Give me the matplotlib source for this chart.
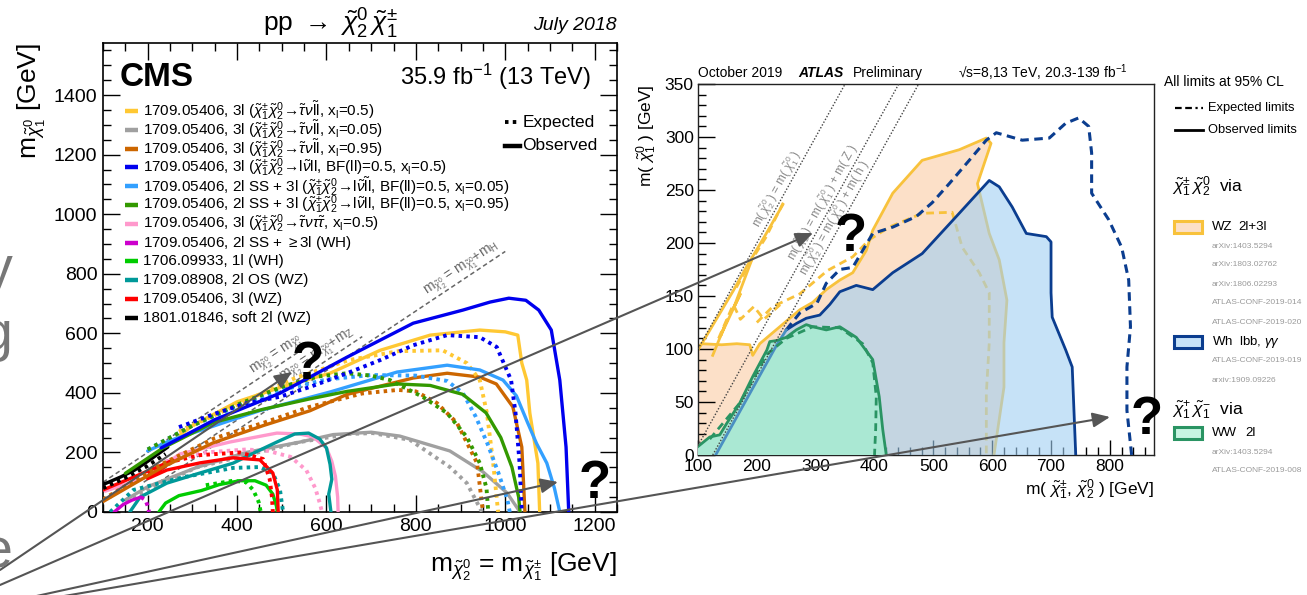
import matplotlib
matplotlib.use("Agg")
import matplotlib.pyplot as plt
from matplotlib.patches import FancyArrowPatch, Rectangle
from matplotlib.ticker import MultipleLocator

plt.rcParams['font.family'] = ['Liberation Sans', 'DejaVu Sans']
plt.rcParams['mathtext.fontset'] = 'custom'
plt.rcParams['mathtext.rm'] = 'Liberation Sans'
plt.rcParams['mathtext.it'] = 'Liberation Sans:italic'
plt.rcParams['mathtext.bf'] = 'Liberation Sans:bold'
plt.rcParams['mathtext.sf'] = 'Liberation Sans'

# ---------------------------------------------------------------- CMS data
cms_gold_obs_x = [240, 300, 400, 500, 608, 720, 832, 943, 1000, 1028, 1037, 1048, 1055, 1073, 1077]
cms_gold_obs_y = [220, 290, 370, 420, 466, 543, 594, 611, 605, 594, 500, 443, 332, 164, 0]
cms_gold_exp_x = [270, 400, 530, 650, 760, 860, 914, 943, 959, 973, 984]
cms_gold_exp_y = [270, 360, 450, 510, 540, 543, 500, 443, 332, 164, 0]
cms_gray_obs_x = [150, 200, 310, 420, 541, 615, 700, 764, 876, 950, 1004, 1033]
cms_gray_obs_y = [40, 85, 150, 200, 235, 260, 268, 255, 205, 135, 64, 0]
cms_gray_exp_x = [150, 310, 541, 650, 704, 787, 876, 914, 948]
cms_gray_exp_y = [40, 150, 235, 262, 265, 242, 151, 97, 0]
cms_brown_obs_x = [100, 234, 346, 458, 563, 646, 794, 870, 943, 980, 1017, 1037, 1044]
cms_brown_obs_y = [35, 151, 232, 290, 340, 395, 450, 466, 453, 430, 353, 218, 0]
cms_brown_exp_x = [100, 230, 350, 460, 560, 680, 760, 800, 847, 892, 937, 950]
cms_brown_exp_y = [42, 160, 248, 300, 352, 398, 410, 405, 366, 299, 164, 0]
cms_blue_obs_x = [230, 350, 496, 646, 794, 905, 966, 1008, 1046, 1075, 1103, 1122, 1136, 1142]
cms_blue_obs_y = [215, 310, 399, 520, 634, 678, 705, 718, 711, 678, 611, 443, 218, 0]
cms_blue_exp_x = [270, 350, 420, 496, 563, 646, 720, 794, 870, 943, 981, 1013, 1023, 1032, 1037]
cms_blue_exp_y = [285, 330, 365, 387, 420, 466, 510, 560, 594, 587, 554, 443, 332, 164, 0]
cms_lblue_obs_x = [200, 250, 350, 450, 608, 758, 870, 943, 995, 1025, 1050, 1070, 1093, 1110, 1122]
cms_lblue_obs_y = [205, 240, 290, 340, 403, 470, 493, 477, 443, 390, 300, 230, 164, 80, 0]
cms_lblue_exp_x = [200, 300, 400, 500, 600, 700, 800, 870, 905, 934, 960, 985, 1005, 1010]
cms_lblue_exp_y = [210, 290, 355, 410, 445, 460, 458, 440, 400, 320, 230, 130, 40, 0]
cms_green_obs_x = [150, 234, 346, 458, 563, 646, 758, 832, 905, 957, 990, 1015, 1030, 1033]
cms_green_obs_y = [130, 215, 300, 345, 380, 405, 430, 425, 395, 333, 250, 150, 50, 0]
cms_green_exp_x = [200, 300, 400, 500, 580, 646, 700, 742, 816, 870, 914, 943, 958, 962]
cms_green_exp_y = [210, 290, 360, 420, 455, 466, 458, 443, 386, 332, 252, 164, 80, 0]
cms_pink_obs_x = [105, 198, 272, 384, 489, 540, 570, 600, 612, 620, 625, 626]
cms_pink_obs_y = [70, 117, 195, 235, 265, 262, 252, 215, 170, 120, 50, 0]
cms_pink_exp_x = [240, 330, 420, 470, 520, 555, 575, 585, 590]
cms_pink_exp_y = [170, 200, 210, 205, 185, 140, 80, 30, 0]
cms_magenta_obs_x = [125, 145, 165, 185]
cms_magenta_obs_y = [0, 25, 40, 50]
cms_magenta_exp_x = [185, 195, 200, 203]
cms_magenta_exp_y = [50, 40, 20, 0]
cms_bgreen_obs_x = [225, 240, 270, 320, 360, 406, 440, 465, 480, 488, 490]
cms_bgreen_obs_y = [0, 30, 55, 72, 92, 105, 105, 90, 60, 20, 0]
cms_bgreen_exp_x = [330, 391, 420, 436, 448, 453]
cms_bgreen_exp_y = [90, 105, 100, 74, 35, 0]
cms_teal_obs_x = [160, 183, 243, 317, 391, 451, 489, 529, 560, 585, 600, 608, 612, 605, 610]
cms_teal_obs_y = [0, 50, 97, 131, 164, 208, 235, 262, 265, 245, 215, 160, 110, 60, 0]
cms_teal_exp_x = [116, 168, 280, 391, 451, 480, 496, 500, 503]
cms_teal_exp_y = [0, 74, 117, 148, 151, 131, 74, 30, 0]
cms_red_obs_x = [100, 168, 257, 200, 243, 317, 391, 451, 480, 490, 492]
cms_red_obs_y = [74, 117, 174, 112, 141, 165, 182, 175, 131, 74, 0]
cms_red_exp_x = [200, 250, 317, 406, 458, 473, 478, 480]
cms_red_exp_y = [130, 168, 191, 200, 178, 110, 50, 0]
cms_black_obs_x = [100, 140, 170, 200, 245]
cms_black_obs_y = [92, 118, 140, 170, 218]
cms_black_exp_x = [100, 150, 200, 240]
cms_black_exp_y = [80, 115, 155, 195]

cms_legend_labels = [
    r"1709.05406, 3l ($\tilde{\chi}^{\pm}_{1}\tilde{\chi}^{0}_{2}\!\rightarrow\!\tilde{\tau}\nu\tilde{\mathrm{l}}\mathrm{l}$, x$_{\mathrm{l}}$=0.5)",
    r"1709.05406, 3l ($\tilde{\chi}^{\pm}_{1}\tilde{\chi}^{0}_{2}\!\rightarrow\!\tilde{\tau}\nu\tilde{\mathrm{l}}\mathrm{l}$, x$_{\mathrm{l}}$=0.05)",
    r"1709.05406, 3l ($\tilde{\chi}^{\pm}_{1}\tilde{\chi}^{0}_{2}\!\rightarrow\!\tilde{\tau}\nu\tilde{\mathrm{l}}\mathrm{l}$, x$_{\mathrm{l}}$=0.95)",
    r"1709.05406, 3l ($\tilde{\chi}^{\pm}_{1}\tilde{\chi}^{0}_{2}\!\rightarrow\!\mathrm{l}\tilde{\nu}\mathrm{ll}$, BF(ll)=0.5, x$_{\mathrm{l}}$=0.5)",
    r"1709.05406, 2l SS + 3l ($\tilde{\chi}^{\pm}_{1}\tilde{\chi}^{0}_{2}\!\rightarrow\!\mathrm{l}\tilde{\nu}\tilde{\mathrm{l}}\mathrm{l}$, BF(ll)=0.5, x$_{\mathrm{l}}$=0.05)",
    r"1709.05406, 2l SS + 3l ($\tilde{\chi}^{\pm}_{1}\tilde{\chi}^{0}_{2}\!\rightarrow\!\mathrm{l}\tilde{\nu}\mathrm{ll}$, BF(ll)=0.5, x$_{\mathrm{l}}$=0.95)",
    r"1709.05406, 3l ($\tilde{\chi}^{\pm}_{1}\tilde{\chi}^{0}_{2}\!\rightarrow\!\tilde{\tau}\nu\tau\tilde{\tau}$, x$_{\mathrm{l}}$=0.5)",
    r"1709.05406, 2l SS + $\geq$3l (WH)",
    r"1706.09933, 1l (WH)",
    r"1709.08908, 2l OS (WZ)",
    r"1709.05406, 3l (WZ)",
    r"1801.01846, soft 2l (WZ)",
]
cms_colors = ['#FFC833', '#A0A0A0', '#CC6600', '#0000EE', '#33A0FF', '#339900',
              '#FF99CC', '#CC00CC', '#00CC00', '#009999', '#FF0000', '#000000']

cms_xticks = [200, 400, 600, 800, 1000, 1200]
cms_yticks = [0, 200, 400, 600, 800, 1000, 1200, 1400]

# kinematic lines: offset in GeV and x-range of the dashed line
cms_diag_offsets = [0, 91, 125]
cms_diag_xstart = [100, 191, 225]
cms_diag_xend = [570, 680, 1000]
cms_diag_labels = [r"m$_{\tilde{\chi}^{0}_{2}}$ = m$_{\tilde{\chi}^{0}_{1}}$",
                   r"m$_{\tilde{\chi}^{0}_{2}}$ = m$_{\tilde{\chi}^{0}_{1}}$+m$_{\mathrm{Z}}$",
                   r"m$_{\tilde{\chi}^{0}_{2}}$ = m$_{\tilde{\chi}^{0}_{1}}$+m$_{\mathrm{H}}$"]
cms_diag_label_x = [500, 591, 915]

# ---------------------------------------------------------------- ATLAS data
atlas_wz_obs_x = [100, 100, 106, 140, 166, 188, 193, 205, 239, 273, 295, 318, 341, 363, 386, 397,
                  431, 481, 544, 590, 598, 575, 595, 612, 625, 620, 620, 603]
atlas_wz_obs_y = [0, 101, 105, 104, 105, 104, 94, 105, 121, 137, 144, 156, 165, 172, 193, 212,
                  247, 278, 288, 299, 294, 256, 209, 184, 146, 106, 64, 0]
atlas_wz_exp_x = [200, 227, 273, 320, 363, 391, 425, 481, 532, 549, 578, 595, 595, 590, 590]
atlas_wz_exp_y = [125, 140, 152, 174, 187, 203, 215, 228, 229, 196, 172, 153, 106, 58, 0]
atlas_wz_diag_obs_x = [100, 130, 160, 183, 215, 244]
atlas_wz_diag_obs_y = [99, 127, 155, 178, 208, 236]
atlas_wz_zig_obs_x = [125, 150, 138, 172, 160, 192]
atlas_wz_zig_obs_y = [94, 128, 112, 152, 138, 185]
atlas_wz_zig_exp_x = [135, 160, 172, 195, 212, 240]
atlas_wz_zig_exp_y = [110, 142, 128, 140, 128, 142]
atlas_wz_diag_exp_x = [165, 190, 215, 245]
atlas_wz_diag_exp_y = [158, 183, 205, 238]

atlas_wh_obs_x = [130, 175, 217, 235, 250, 267, 284, 307, 324, 341, 369, 397, 431, 481, 539, 595,
                  612, 634, 658, 692, 700, 700, 702, 725, 736, 742]
atlas_wh_obs_y = [0, 45, 87, 105, 118, 124, 129, 132, 142, 154, 160, 156, 172, 190, 225, 259,
                  253, 234, 209, 206, 201, 153, 130, 99, 83, 0]
atlas_wh_exp_x = [250, 273, 302, 318, 341, 363, 380, 397, 431, 471, 498, 527, 561, 590, 607, 651,
                  697, 725, 747, 764, 769, 769, 798, 820, 832, 835, 829, 829, 837]
atlas_wh_exp_y = [118, 134, 143, 162, 175, 177, 193, 209, 215, 225, 238, 256, 278, 297, 304, 297,
                  299, 313, 318, 310, 285, 247, 222, 196, 165, 121, 83, 42, 0]
atlas_ww_obs_x = [100, 100, 120, 137, 149, 171, 193, 217, 222, 234, 250, 267, 284, 295, 318, 341,
                  369, 397, 408, 414, 420]
atlas_ww_obs_y = [0, 8, 17, 19, 30, 49, 74, 99, 107, 108, 111, 118, 123, 121, 118, 121,
                  111, 90, 55, 24, 0]
atlas_ww_exp_x = [120, 171, 217, 250, 295, 341, 380, 397, 403, 402, 400]
atlas_ww_exp_y = [15, 49, 95, 110, 121, 120, 105, 87, 55, 25, 0]

atlas_diag_offsets = [0, 91.2, 125]
atlas_diag_labels = [r"m( $\tilde{\chi}^{0}_{2}$ ) = m( $\tilde{\chi}^{0}_{1}$ )",
                     r"m( $\tilde{\chi}^{0}_{2}$ ) = m( $\tilde{\chi}^{0}_{1}$ ) + m( Z )",
                     r"m( $\tilde{\chi}^{0}_{2}$ ) = m( $\tilde{\chi}^{0}_{1}$ ) + m( h )"]
atlas_diag_label_x = [247, 325, 345]

atlas_xticks = [100, 200, 300, 400, 500, 600, 700, 800]
atlas_yticks = [0, 50, 100, 150, 200, 250, 300, 350]

# ---------------------------------------------------------------- figure
fig = plt.figure(figsize=(13.07, 5.95), dpi=100)

# ---------------- CMS panel
ax = fig.add_axes([103/1307, 83/595, 514/1307, 469/595])
ax.set_xlim(100, 1250)
ax.set_ylim(0, 1575)

for off, x0, x1, lab, lx in zip(cms_diag_offsets, cms_diag_xstart, cms_diag_xend,
                                 cms_diag_labels, cms_diag_label_x):
    ax.plot([x0, x1], [x0 - off, x1 - off], color='#666666', lw=1.1,
            ls=(0, (3, 2)), zorder=1)
    ax.text(lx, lx - off, lab, fontsize=10, color='#666666', rotation=45,
            transform_rotates_text=True, rotation_mode='anchor',
            ha='center', va='bottom', zorder=1)

dot = (0, (0.9, 1.1))
cms_curves = [
    (cms_gray_exp_x, cms_gray_exp_y, 1, dot), (cms_gray_obs_x, cms_gray_obs_y, 1, '-'),
    (cms_pink_exp_x, cms_pink_exp_y, 6, dot), (cms_pink_obs_x, cms_pink_obs_y, 6, '-'),
    (cms_teal_exp_x, cms_teal_exp_y, 9, dot), (cms_teal_obs_x, cms_teal_obs_y, 9, '-'),
    (cms_bgreen_exp_x, cms_bgreen_exp_y, 8, dot), (cms_bgreen_obs_x, cms_bgreen_obs_y, 8, '-'),
    (cms_magenta_exp_x, cms_magenta_exp_y, 7, dot), (cms_magenta_obs_x, cms_magenta_obs_y, 7, '-'),
    (cms_red_exp_x, cms_red_exp_y, 10, dot), (cms_red_obs_x, cms_red_obs_y, 10, '-'),
    (cms_black_exp_x, cms_black_exp_y, 11, dot), (cms_black_obs_x, cms_black_obs_y, 11, '-'),
    (cms_brown_exp_x, cms_brown_exp_y, 2, dot), (cms_brown_obs_x, cms_brown_obs_y, 2, '-'),
    (cms_gold_exp_x, cms_gold_exp_y, 0, dot), (cms_gold_obs_x, cms_gold_obs_y, 0, '-'),
    (cms_lblue_exp_x, cms_lblue_exp_y, 4, dot), (cms_lblue_obs_x, cms_lblue_obs_y, 4, '-'),
    (cms_green_exp_x, cms_green_exp_y, 5, dot), (cms_green_obs_x, cms_green_obs_y, 5, '-'),
    (cms_blue_exp_x, cms_blue_exp_y, 3, dot), (cms_blue_obs_x, cms_blue_obs_y, 3, '-'),
]
for xs, ys, ci, ls in cms_curves:
    ax.plot(xs, ys, color=cms_colors[ci], lw=2.4 if ls == '-' else 2.8, ls=ls,
            solid_capstyle='round', zorder=3)

ax.set_xticks(cms_xticks)
ax.set_yticks(cms_yticks)
ax.xaxis.set_minor_locator(MultipleLocator(50))
ax.yaxis.set_minor_locator(MultipleLocator(50))
ax.tick_params(which='both', direction='in', top=True, right=True, labelsize=14,
               width=1.0, pad=4)
ax.tick_params(which='major', length=12)
ax.tick_params(which='minor', length=6)
for s in ax.spines.values():
    s.set_linewidth(1.2)

ax.text(0.033, 0.9275, "CMS", transform=ax.transAxes, fontsize=24, fontweight='bold',
        ha='left', va='center')
ax.text(0.949, 0.9275, r"35.9 fb$^{-1}$ (13 TeV)", transform=ax.transAxes, fontsize=17,
        ha='right', va='center')

# legend, built manually to keep the ROOT-like spacing
for i, (lab, col) in enumerate(zip(cms_legend_labels, cms_colors)):
    yy = (512 - (111 + 18.8 * i)) / 469
    ax.plot([0.043, 0.069], [yy, yy], transform=ax.transAxes, color=col, lw=3.2,
            solid_capstyle='butt')
    ax.text(0.078, yy, lab, transform=ax.transAxes, fontsize=11, ha='left', va='center')

yy_e = (512 - 122) / 469
yy_o = (512 - 146) / 469
ax.plot([0.783, 0.812], [yy_e, yy_e], transform=ax.transAxes, color='black', lw=2.8,
        ls=(0, (0.9, 1.1)))
ax.plot([0.783, 0.812], [yy_o, yy_o], transform=ax.transAxes, color='black', lw=3.2)
ax.text(0.816, yy_e, "Expected", transform=ax.transAxes, fontsize=12.5, va='center')
ax.text(0.816, yy_o, "Observed", transform=ax.transAxes, fontsize=12.5, va='center')

ax.text(1.0, -0.117, r"m$_{\tilde{\chi}^{0}_{2}}$ = m$_{\tilde{\chi}^{\pm}_{1}}$ [GeV]",
        transform=ax.transAxes, fontsize=19, ha='right', va='center')
ax.text(-0.138, 1.0, r"m$_{\tilde{\chi}^{0}_{1}}$ [GeV]", transform=ax.transAxes,
        fontsize=19, rotation=90, ha='center', va='top')

# ---------------- ATLAS panel
ax2 = fig.add_axes([698/1307, 140/595, 456/1307, 371/595])
ax2.set_xlim(100, 875)
ax2.set_ylim(0, 350)

gold = '#F8C23C'
navy = '#0B3D8F'
wwc = '#2A9463'
dash = (0, (2.8, 1.8))
ax2.fill(atlas_wz_obs_x, atlas_wz_obs_y, color='#FCE0C8', lw=0, zorder=1)
ax2.plot(atlas_wz_obs_x[1:], atlas_wz_obs_y[1:], color=gold, lw=2.0, zorder=2)
ax2.plot(atlas_wz_exp_x, atlas_wz_exp_y, color=gold, lw=2.0, ls=dash, zorder=2)
ax2.plot(atlas_wz_diag_obs_x, atlas_wz_diag_obs_y, color=gold, lw=2.0, zorder=2)
ax2.plot(atlas_wz_zig_obs_x, atlas_wz_zig_obs_y, color=gold, lw=2.0, zorder=2)
ax2.plot(atlas_wz_zig_exp_x, atlas_wz_zig_exp_y, color=gold, lw=2.0, ls=dash, zorder=2)
ax2.plot(atlas_wz_diag_exp_x, atlas_wz_diag_exp_y, color=gold, lw=2.0, ls=dash, zorder=2)

ax2.fill(atlas_wh_obs_x + [130], atlas_wh_obs_y + [0], color='#A0CFF3', alpha=0.6, lw=0, zorder=3)
ax2.plot(atlas_wh_obs_x[4:], atlas_wh_obs_y[4:], color=navy, lw=2.0, zorder=4)
ax2.plot(atlas_wh_exp_x, atlas_wh_exp_y, color=navy, lw=2.2, ls=dash, zorder=4)

ax2.fill(atlas_ww_obs_x, atlas_ww_obs_y, color='#AAE8D3', lw=0, zorder=5)
ax2.plot(atlas_wh_obs_x[:5], atlas_wh_obs_y[:5], color='#4A8FC2', lw=2.0, zorder=6)
ax2.plot(atlas_ww_obs_x[1:], atlas_ww_obs_y[1:], color=wwc, lw=2.0, zorder=6)
ax2.plot(atlas_ww_exp_x, atlas_ww_exp_y, color=wwc, lw=2.0, ls=dash, zorder=6)

for off, lab, lx in zip(atlas_diag_offsets, atlas_diag_labels, atlas_diag_label_x):
    x0 = max(100, off)
    ax2.plot([x0, 350 + off], [x0 - off, 350], color='#444444', lw=1.0,
             ls=(0, (1, 1.3)), zorder=7)
    ax2.text(lx, lx - off, lab, fontsize=8.5, color='#8A8A8A', rotation=45,
             transform_rotates_text=True, rotation_mode='anchor',
             ha='center', va='bottom', zorder=7)

ax2.set_xticks(atlas_xticks)
ax2.set_yticks(atlas_yticks)
ax2.xaxis.set_minor_locator(MultipleLocator(20))
ax2.yaxis.set_minor_locator(MultipleLocator(10))
ax2.tick_params(which='both', direction='in', top=False, right=False, labelsize=12.5,
                width=1.0, pad=3)
ax2.tick_params(axis='y', which='major', length=12)
ax2.tick_params(axis='x', which='major', length=11)
ax2.tick_params(which='minor', length=5.5)
for s in ax2.spines.values():
    s.set_linewidth(1.0)
    s.set_color('#222222')
ax2.text(1.0, -0.094, r"m( $\tilde{\chi}^{\pm}_{1}$, $\tilde{\chi}^{0}_{2}$ ) [GeV]",
         transform=ax2.transAxes, fontsize=12.5, ha='right', va='center')
ax2.text(-0.112, 1.0, r"m( $\tilde{\chi}^{0}_{1}$ ) [GeV]", transform=ax2.transAxes,
         fontsize=12.5, rotation=90, ha='center', va='top')

# ---------------- overlay (pixel coordinates of the whole picture)
ov = fig.add_axes([0, 0, 1, 1], zorder=20)
ov.set_xlim(0, 1307)
ov.set_ylim(595, 0)
ov.axis('off')
ov.patch.set_alpha(0)

# stray slide letters at the left edge
for ch, yb in zip(['y', 'g', 'e'], [285, 350, 568]):
    ov.text(13, yb, ch, fontsize=40, color='#777777', ha='right', va='baseline')

ov.text(330, 24, r"pp $\rightarrow$ $\tilde{\chi}^{0}_{2}\,\tilde{\chi}^{\pm}_{1}$",
        fontsize=19, ha='center', va='center')
ov.text(617, 26, "July 2018", fontsize=14, style='italic', ha='right', va='center')

ov.text(698, 73, "October 2019", fontsize=10, ha='left', va='center')
ov.text(798, 73, "ATLAS", fontsize=10, fontweight='bold', style='italic', ha='left', va='center')
ov.text(853, 73, "Preliminary", fontsize=10, ha='left', va='center')
ov.text(958, 73, r"√s=8,13 TeV, 20.3-139 fb$^{-1}$", fontsize=10, ha='left', va='center')

# ATLAS legend
ov.text(1164, 82, "All limits at 95% CL", fontsize=10, ha='left', va='center')
ov.plot([1175, 1203], [108, 108], color='black', lw=1.6, ls=(0, (3, 1.6, 3, 1.6, 1, 1.6)))
ov.text(1208, 108, "Expected limits", fontsize=9.3, ha='left', va='center')
ov.plot([1175, 1203], [130, 130], color='black', lw=2.0)
ov.text(1208, 130, "Observed limits", fontsize=9.3, ha='left', va='center')
ov.text(1172, 187, r"$\tilde{\chi}^{\pm}_{1}\,\tilde{\chi}^{0}_{2}$  via", fontsize=12.5,
        ha='left', va='center')
ov.add_patch(Rectangle((1174, 221), 28, 12, facecolor='#FCE0C8', edgecolor=gold, lw=2.2))
ov.text(1212, 227, "WZ", fontsize=9.5, ha='left', va='center')
ov.text(1238, 227, "2l+3l", fontsize=9.5, ha='left', va='center')
ov.add_patch(Rectangle((1174, 336), 28, 12, facecolor='#C6E2F8', edgecolor=navy, lw=2.2))
ov.text(1212, 342, r"Wh  lbb, $\gamma\gamma$", fontsize=9.5, ha='left', va='center')
ov.text(1172, 410, r"$\tilde{\chi}^{+}_{1}\,\tilde{\chi}^{-}_{1}$  via", fontsize=12.5,
        ha='left', va='center')
ov.add_patch(Rectangle((1174, 427), 28, 12, facecolor='#C8F5E2', edgecolor=wwc, lw=2.2))
ov.text(1212, 433, "WW", fontsize=9.5, ha='left', va='center')
ov.text(1245, 433, "2l", fontsize=9.5, ha='left', va='center')
small_refs = [("arXiv:1403.5294", 246), ("arXiv:1803.02762", 265), ("arXiv:1806.02293", 284),
              ("ATLAS-CONF-2019-014", 303), ("ATLAS-CONF-2019-020", 322),
              ("ATLAS-CONF-2019-019", 361), ("arxiv:1909.09226", 380),
              ("arXiv:1403.5294", 452), ("ATLAS-CONF-2019-008", 470)]
for t, yv in small_refs:
    ov.text(1212, yv, t, fontsize=6, color='#9A9A9A', ha='left', va='center')

# arrows and question marks
arrow_start = [(0, 570), (0, 585), (0, 604), (0, 607)]
arrow_end = [(292, 372), (813, 233), (558, 482), (1110, 417)]
for s, e in zip(arrow_start, arrow_end):
    ov.add_patch(FancyArrowPatch(s, e, arrowstyle='-|>,head_length=0.7,head_width=0.3',
                                 mutation_scale=15, color='#555555', lw=1.5,
                                 shrinkA=0, shrinkB=0))
qmarks = [(308, 360), (595, 479), (851, 232), (1147, 415)]
for qx, qy in qmarks:
    ov.text(qx, qy + 19, "?", fontsize=38, fontweight='bold', ha='center', va='baseline')

fig.savefig("out.png", dpi=100)
